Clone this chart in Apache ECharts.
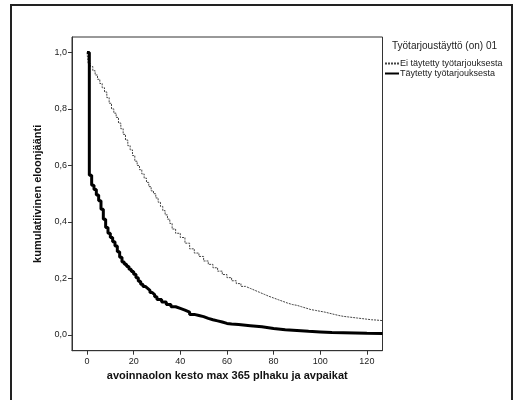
<!DOCTYPE html>
<html>
<head>
<meta charset="utf-8">
<script src="https://cdn.jsdelivr.net/npm/echarts@6/dist/echarts.min.js"></script>
<style>html,body{margin:0;padding:0;background:#fff;}#c{width:517px;height:400px;}</style>
</head>
<body>
<div id="c"></div>
<script>
const legendTitle = 'Työtarjoustäyttö (on) 01';
const seriesNames = ['Ei täytetty työtarjouksesta', 'Täytetty työtarjouksesta'];
const xTicks = [0, 20, 40, 60, 80, 100, 120];
const yTicks = [0, 0.2, 0.4, 0.6, 0.8, 1.0];
const xName = 'avoinnaolon kesto max 365 plhaku ja avpaikat';
const yName = 'kumulatiivinen eloonjäänti';

const eiX = [0,0.5,1.5,2.5,3.5,4.5,5.5,6.5,7.5,8.5,9.5,10.5,11.5,12.5,13.5,14.5,15.5,16.5,17.5,18.5,19.5,20.5,21.5,22.5,23.5,24.5,25.5,26.5,27.5,28.5,29.5,30.5,31.5,32.5,33.5,34.5,35.5,36.5,38,40,42,44,46,48,50,52,54,56,58,60,62,64,66,68,70,72,74,76,78,80,82,84,86,88,90,92,94,96,98,100,102,104,106,108,110,112,114,116,118,120,122,124,126.7];
const eiY = [1.0,0.96,0.95,0.935,0.92,0.905,0.89,0.875,0.86,0.84,0.82,0.80,0.785,0.77,0.75,0.73,0.71,0.69,0.67,0.655,0.635,0.615,0.60,0.585,0.57,0.555,0.54,0.525,0.51,0.50,0.485,0.47,0.455,0.44,0.425,0.41,0.395,0.375,0.36,0.345,0.325,0.305,0.29,0.278,0.262,0.25,0.238,0.226,0.214,0.203,0.192,0.182,0.172,0.165,0.158,0.151,0.144,0.137,0.131,0.125,0.119,0.113,0.108,0.105,0.10,0.095,0.09,0.087,0.084,0.081,0.077,0.073,0.069,0.066,0.064,0.062,0.06,0.058,0.056,0.054,0.053,0.051,0.049];

const tayX = [0,1,2,3,4,5,6,7,8,9,10,11,12,13,14,15,16,17,18,19,20,21,22,23,24,25,26,27,28,29,30,32,34,36,38,40,42,44,46,48,50,52,54,56,58,60,62,65,70,75,80,85,90,95,100,105,110,115,120,126.7];
const tayY = [1.0,0.565,0.53,0.515,0.495,0.475,0.445,0.41,0.38,0.36,0.345,0.33,0.315,0.295,0.275,0.258,0.25,0.242,0.233,0.225,0.215,0.203,0.19,0.18,0.172,0.165,0.158,0.15,0.143,0.135,0.126,0.117,0.108,0.1,0.094,0.088,0.081,0.073,0.069,0.065,0.059,0.054,0.05,0.046,0.041,0.039,0.037,0.033,0.029,0.023,0.019,0.016,0.013,0.011,0.009,0.008,0.007,0.006,0.005,0.004];

const font = 'Arial, "Liberation Sans", sans-serif';
const chart = echarts.init(document.getElementById('c'), null, {renderer: 'canvas'});
chart.setOption({
  animation: false,
  backgroundColor: '#fff',
  textStyle: {fontFamily: font},
  graphic: [{
    type: 'rect', shape: {x: 11, y: 5, width: 501, height: 420},
    style: {fill: 'none', stroke: '#222', lineWidth: 2}, silent: true
  }],
  title: {
    text: legendTitle, left: 392, top: 41, padding: 0,
    textStyle: {fontSize: 10, fontWeight: 'normal', color: '#222', fontFamily: font}
  },
  legend: {
    orient: 'vertical', left: 384, top: 59, itemGap: 1,
    itemWidth: 14, itemHeight: 8, padding: 0,
    itemStyle: {opacity: 0},
    textStyle: {fontSize: 9, color: '#222', fontFamily: font, padding: [0, 0, 0, -4]},
    data: seriesNames
  },
  grid: {left: 72, top: 37, right: 134.5, bottom: 49.3, show: true, borderColor: '#333', borderWidth: 1, containLabel: false},
  xAxis: {
    type: 'value', min: -6.43, max: 126.7,
    name: xName, nameLocation: 'middle', nameGap: 11,
    nameTextStyle: {fontSize: 11, fontWeight: 'bold', color: '#111', fontFamily: font},
    axisLine: {show: true, onZero: false, lineStyle: {color: '#333', width: 1}},
    axisTick: {show: true, length: 4, customValues: xTicks, lineStyle: {color: '#333'}},
    axisLabel: {customValues: xTicks, fontSize: 9, color: '#222', margin: 6, fontFamily: font},
    splitLine: {show: false}
  },
  yAxis: {
    type: 'value', min: -0.0555, max: 1.0545,
    name: yName, nameLocation: 'middle', nameGap: 22, nameRotate: 90,
    nameTextStyle: {fontSize: 11, fontWeight: 'bold', color: '#111', fontFamily: font},
    axisLine: {show: true, onZero: false, lineStyle: {color: '#333', width: 1}},
    axisTick: {show: true, length: 4, customValues: yTicks, lineStyle: {color: '#333'}},
    axisLabel: {customValues: yTicks, fontSize: 9, color: '#222', margin: 5, fontFamily: font,
      formatter: v => v.toFixed(1).replace('.', ',')},
    splitLine: {show: false}
  },
  series: [
    {
      name: seriesNames[0], type: 'line', step: 'end', symbol: 'none',
      data: eiX.map((x, i) => [x, eiY[i]]),
      lineStyle: {color: '#444', width: 1, type: [2, 1]},
      itemStyle: {color: '#444'}
    },
    {
      name: seriesNames[1], type: 'line', step: 'end', symbol: 'none',
      data: tayX.map((x, i) => [x, tayY[i]]),
      lineStyle: {color: '#000', width: 3},
      itemStyle: {color: '#000'}
    }
  ]
});
</script>
</body>
</html>
